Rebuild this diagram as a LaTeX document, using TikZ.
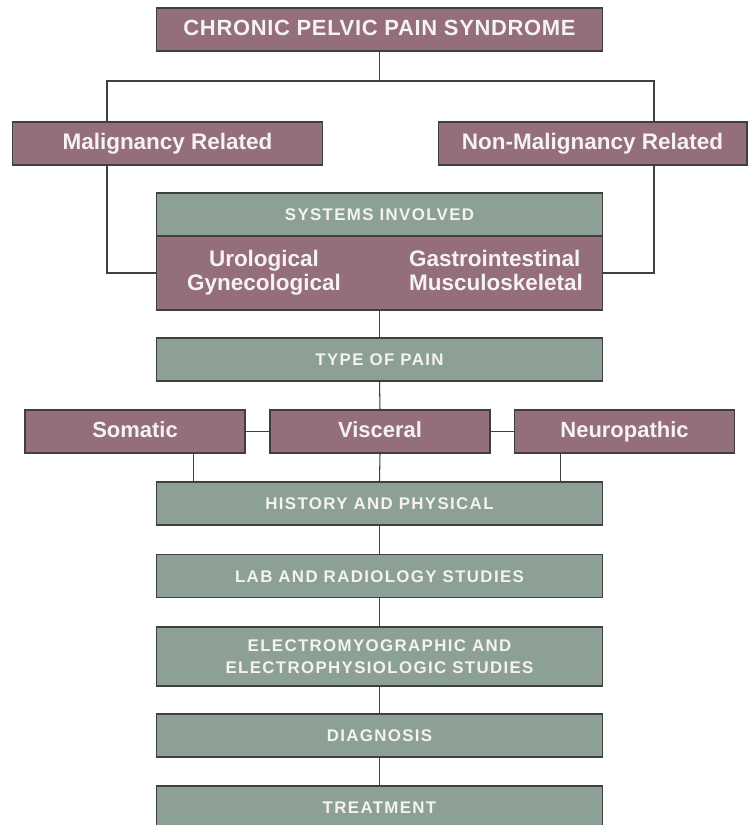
\documentclass[tikz,border=0pt]{standalone}
\usepackage{fontspec}
\setmainfont{Liberation Sans}
\usetikzlibrary{positioning}
\definecolor{mauve}{HTML}{946E7A}
\definecolor{sage}{HTML}{8CA095}
\definecolor{edgegray}{HTML}{3F3F3F}
\definecolor{paletext}{HTML}{F4F2F2}

\tikzset{
  box/.style={draw=edgegray, line width=0.6pt, text=paletext, inner sep=0pt, align=center, minimum height=0.86cm},
  oneline/.style={text height=0.72em, text depth=0pt},
  redbox/.style={box, oneline, fill=mauve, font=\bfseries\fontsize{12.8}{14}\selectfont},
  greentext/.style={font=\bfseries\fontsize{9.6}{12.6}\selectfont\addfontfeature{LetterSpace=8}},
  greenbox/.style={box, oneline, fill=sage, minimum width=8.94cm, greentext},
  painbox/.style={redbox, minimum width=4.4cm, font=\bfseries\fontsize{12.5}{14}\selectfont},
  systext/.style={text=paletext, inner sep=0pt, anchor=north, font=\bfseries\fontsize{12.8}{13.8}\selectfont},
  link/.style={draw=edgegray, line width=0.6pt}
}

\begin{document}
\begin{tikzpicture}[x=0.02cm, y=-0.02cm]
    \useasboundingbox (0,0) rectangle (751,825);
    % top of the tree
    \node[redbox, minimum width=8.94cm, font=\bfseries\fontsize{12.5}{14}\selectfont\addfontfeature{LetterSpace=3}] (chronic) at (379.5,29.5) {CHRONIC PELVIC PAIN SYNDROME};
    \node[redbox, minimum width=6.22cm] (malig) at (167.5,143.5) {Malignancy Related};
    \node[redbox, minimum width=6.18cm] (nonmalig) at (592.5,143.5) {Non-Malignancy Related};

    % systems block: header plus two columns
    \node[greenbox] (systems) at (379.5,214.5) {SYSTEMS INVOLVED};
    \node[box, fill=mauve, minimum width=8.94cm, minimum height=1.48cm] (sysbody) at (379.5,273) {};
    \node[systext, align=center] (uro) at (264,250) {Urological\\Gynecological};
    \node[systext, align=left] (gastro) at (496,250) {Gastrointestinal\\Musculoskeletal};

    \node[greenbox] (painkind) at (379.5,359.5) {TYPE OF PAIN};
    \node[painbox] (somatic) at (135,431.5) {Somatic};
    \node[painbox] (visceral) at (380,431.5) {Visceral};
    \node[painbox] (neuro) at (624.5,431.5) {Neuropathic};

    % work-up chain
    \node[greenbox] (history) at (379.5,503.5) {HISTORY AND PHYSICAL};
    \node[greenbox] (labs) at (379.5,576) {LAB AND RADIOLOGY STUDIES};
    \node[box, fill=sage, minimum width=8.94cm, minimum height=1.18cm, greentext] (emg) at (379.5,656.5) {ELECTROMYOGRAPHIC AND\\ELECTROPHYSIOLOGIC STUDIES};
    \node[greenbox] (diagnosis) at (379.5,735.5) {DIAGNOSIS};
    \node[greenbox] (treatment) at (379.5,807.5) {TREATMENT};

    % connectors
    \draw[link] (chronic.south) -- ++(0,29.5) coordinate (split);
    \draw[link] ([xshift=-1.21cm]malig.north) |- (split) -| ([xshift=1.23cm]nonmalig.north);
    \draw[link] ([xshift=-1.21cm]malig.south) |- (sysbody.west);
    \draw[link] ([xshift=1.23cm]nonmalig.south) |- (sysbody.east);
    \draw[link] (sysbody.south) -- (painkind.north);
    \draw[link] (painkind.south) -- (visceral.north);
    \draw[link] (somatic.east) -- (visceral.west);
    \draw[link] (visceral.east) -- (neuro.west);
    \draw[link] ([xshift=1.17cm]somatic.south) -- ([xshift=1.17cm]somatic.south |- history.north);
    \draw[link] (visceral.south) -- (history.north);
    \draw[link] ([xshift=-1.28cm]neuro.south) -- ([xshift=-1.28cm]neuro.south |- history.north);
    \draw[link] (history.south) -- (labs.north);
    \draw[link] (labs.south) -- (emg.north);
    \draw[link] (emg.south) -- (diagnosis.north);
    \draw[link] (diagnosis.south) -- (treatment.north);
\end{tikzpicture}
\end{document}
